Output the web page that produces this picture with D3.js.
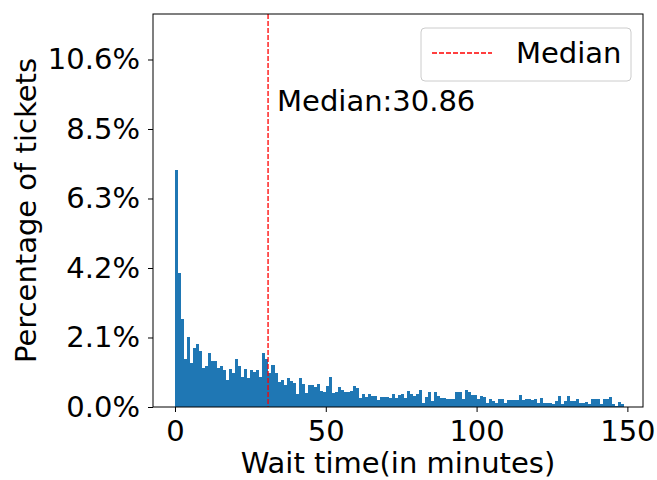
<!DOCTYPE html>
<html>
<head>
<meta charset="utf-8">
<script src="https://cdn.jsdelivr.net/npm/d3@7"></script>
<style>
  body { margin: 0; background: #fff; }
  text { font-family: 'DejaVu Sans', sans-serif; fill: #000; }
  .tick text { font-size: 29px; }
  .axis-label { font-size: 29px; }
</style>
</head>
<body>
<svg width="657" height="480"></svg>
<script>
// share of tickets (percent) per 1-minute wait-time bin, bins start at 0
const binStarts = d3.range(0, 149);
const percentages = [
  7.22, 4.09, 2.69, 1.45, 2.14, 1.33, 1.79, 1.92, 1.70, 1.20,
  1.25, 1.64, 1.39, 1.39, 1.19, 1.25, 1.13, 0.82, 1.15, 1.05,
  1.45, 1.25, 0.92, 1.15, 0.87, 1.12, 1.08, 1.13, 0.90, 1.64,
  1.45, 1.05, 1.29, 1.03, 0.77, 0.82, 0.67, 0.87, 0.80, 0.74,
  0.39, 0.89, 0.70, 0.44, 0.67, 0.67, 0.60, 0.70, 0.49, 0.46,
  0.64, 0.90, 0.44, 0.47, 0.62, 0.52, 0.47, 0.47, 0.50, 0.64,
  0.57, 0.26, 0.39, 0.31, 0.39, 0.35, 0.35, 0.20, 0.31, 0.31,
  0.31, 0.28, 0.39, 0.26, 0.37, 0.40, 0.26, 0.49, 0.39, 0.35,
  0.39, 0.52, 0.13, 0.31, 0.45, 0.18, 0.45, 0.33, 0.26, 0.26,
  0.23, 0.23, 0.23, 0.46, 0.46, 0.23, 0.52, 0.45, 0.37, 0.37,
  0.23, 0.35, 0.30, 0.11, 0.24, 0.19, 0.13, 0.24, 0.24, 0.13,
  0.21, 0.21, 0.21, 0.21, 0.36, 0.21, 0.23, 0.25, 0.22, 0.23,
  0.11, 0.27, 0.13, 0.13, 0.13, 0.09, 0.19, 0.33, 0.09, 0.19,
  0.33, 0.19, 0.17, 0.23, 0.13, 0.11, 0.14, 0.08, 0.23, 0.23,
  0.23, 0.09, 0.25, 0.25, 0.31, 0.09, 0.02, 0.14, 0.09
];
const binWidth = 1;

const median = 30.86;

const xTickValues = [0, 50, 100, 150];
const yTickValues = [0, 2.1155, 4.231, 6.3465, 8.462, 10.5775];
const yTickLabels = ['0.0%', '2.1%', '4.2%', '6.3%', '8.5%', '10.6%'];

const xAxisLabel = 'Wait time(in minutes)';
const yAxisLabel = 'Percentage of tickets';
const medianLabel = 'Median:' + median;
const legendLabel = 'Median';

const svg = d3.select('svg');
const width = +svg.attr('width');
const height = +svg.attr('height');

const margin = { top: 14, right: 14, bottom: 73, left: 153 };
const innerWidth = width - margin.left - margin.right;
const innerHeight = height - margin.top - margin.bottom;

const xScale = d3.scaleLinear()
    .domain([-7.29, 155.18])
    .range([0, innerWidth]);

const yScale = d3.scaleLinear()
    .domain([0, 11.962])
    .range([innerHeight, 0]);

const g = svg.append('g')
    .attr('transform', `translate(${margin.left},${margin.top})`);

// bars
g.selectAll('rect.bar').data(binStarts)
    .enter().append('rect')
    .attr('class', 'bar')
    .attr('x', d => xScale(d))
    .attr('width', d => xScale(d + binWidth) - xScale(d))
    .attr('y', (d, i) => yScale(percentages[i]))
    .attr('height', (d, i) => innerHeight - yScale(percentages[i]))
    .attr('fill', '#1f77b4')
    .attr('shape-rendering', 'crispEdges');

// median line
g.append('line')
    .attr('x1', xScale(median))
    .attr('x2', xScale(median))
    .attr('y1', 0)
    .attr('y2', innerHeight)
    .attr('stroke', 'red')
    .attr('stroke-width', 1.3)
    .attr('stroke-dasharray', '5,2');

g.append('text')
    .attr('class', 'axis-label')
    .attr('x', xScale(median) + 9)
    .attr('y', 97)
    .text(medianLabel);

const xAxis = d3.axisBottom(xScale)
    .tickValues(xTickValues)
    .tickSize(5)
    .tickPadding(8);

const yAxis = d3.axisLeft(yScale)
    .tickValues(yTickValues)
    .tickFormat((d, i) => yTickLabels[i])
    .tickSize(5)
    .tickPadding(8);

const xAxisG = g.append('g')
    .attr('transform', `translate(0,${innerHeight})`)
    .call(xAxis);
xAxisG.select('.domain').remove();

const yAxisG = g.append('g').call(yAxis);
yAxisG.select('.domain').remove();

svg.selectAll('.tick line').attr('stroke', '#000').attr('stroke-width', 1);
svg.selectAll('.tick text').attr('fill', '#000');

// frame
g.append('rect')
    .attr('width', innerWidth)
    .attr('height', innerHeight)
    .attr('fill', 'none')
    .attr('stroke', '#000')
    .attr('stroke-width', 1);

xAxisG.append('text')
    .attr('class', 'axis-label')
    .attr('x', innerWidth / 2)
    .attr('y', 66)
    .attr('text-anchor', 'middle')
    .text(xAxisLabel);

yAxisG.append('text')
    .attr('class', 'axis-label')
    .attr('transform', 'rotate(-90)')
    .attr('x', -innerHeight / 2)
    .attr('y', -117)
    .attr('text-anchor', 'middle')
    .text(yAxisLabel);

// legend
const legend = g.append('g')
    .attr('transform', `translate(${421 - margin.left},${28 - margin.top})`);

legend.append('rect')
    .attr('width', 210)
    .attr('height', 53)
    .attr('rx', 4)
    .attr('fill', '#fff')
    .attr('stroke', '#ccc')
    .attr('stroke-width', 1);

legend.append('line')
    .attr('x1', 11)
    .attr('x2', 71)
    .attr('y1', 25)
    .attr('y2', 25)
    .attr('stroke', 'red')
    .attr('stroke-width', 1.3)
    .attr('stroke-dasharray', '5,2');

legend.append('text')
    .attr('class', 'axis-label')
    .attr('x', 95)
    .attr('y', 35)
    .text(legendLabel);
</script>
</body>
</html>
